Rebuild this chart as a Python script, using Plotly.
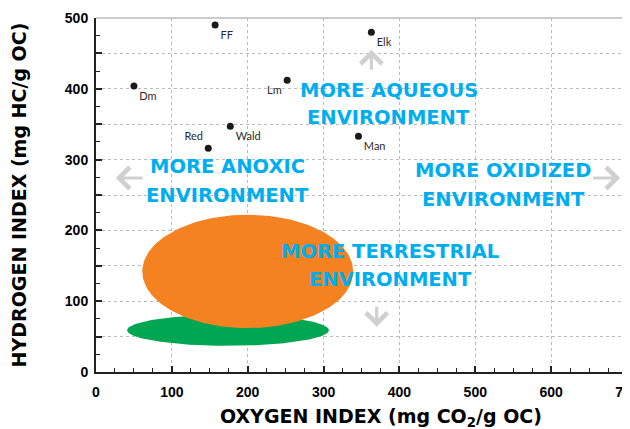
import plotly.graph_objects as go
import numpy as np

# Sample points (Oxygen index, Hydrogen index)
site_names = ["FF", "Elk", "Dm", "Lm", "Wald", "Red", "Man"]
oxygen_index = [157, 363, 50, 252, 177, 148, 346]
hydrogen_index = [490, 480, 404, 412, 347, 316, 333]
label_pos = ["bottom right", "bottom right", "bottom right", "bottom left",
             "bottom right", "top left", "bottom right"]

# Kerogen-type fields (ellipses): center x, center y, half-width, half-height
orange_field = dict(cx=200, cy=142, rx=139, ry=80)
green_field = dict(cx=174, cy=59, rx=133, ry=22)

x_ticks = [0, 100, 200, 300, 400, 500, 600, 700]
y_ticks = [0, 50, 100, 150, 200, 250, 300, 350, 400, 450, 500]
y_ticktext = ["0", "", "100", "", "200", "", "300", "", "400", "", "500"]

# Environment labels: (line text, x, y)
env_lines = [
    ("MORE AQUEOUS", 386, 398), ("ENVIRONMENT", 386, 359),
    ("MORE ANOXIC", 174, 290), ("ENVIRONMENT", 174, 250),
    ("MORE OXIDIZED", 537, 284), ("ENVIRONMENT", 537, 244),
    ("MORE TERRESTRIAL", 388, 170), ("ENVIRONMENT", 388, 131),
]

BLUE = "#00AEEF"
GREY = "#D0D0D0"
HEAVY = "DejaVu Sans, Liberation Sans, sans-serif"

fig = go.Figure()

def ellipse(f, color):
    t = np.linspace(0, 2 * np.pi, 200)
    return go.Scatter(x=f["cx"] + f["rx"] * np.cos(t), y=f["cy"] + f["ry"] * np.sin(t),
                      mode="lines", fill="toself", fillcolor=color,
                      line=dict(width=0, color=color), hoverinfo="skip", showlegend=False)

fig.add_trace(ellipse(green_field, "#00A651"))
fig.add_trace(ellipse(orange_field, "#F58220"))

fig.add_trace(go.Scatter(
    x=oxygen_index, y=hydrogen_index, mode="markers+text",
    text=site_names, textposition=label_pos,
    textfont=dict(family="Lato, DejaVu Sans, sans-serif", size=11, color="#2a2a2a"),
    marker=dict(size=7, color="#1a1a1a"), showlegend=False))

big = dict(family=HEAVY, size=19.5, color=BLUE, weight="bold")
for txt, x, y in env_lines:
    fig.add_annotation(x=x, y=y, text=txt, showarrow=False, font=big, align="center")

# direction arrows
arrows = [
    (363, 455, 0, 30),     # up
    (26, 274, 30, 0),      # left
    (691, 274, -30, 0),    # right
    (370, 64, 0, -30),     # down
]
for x, y, ax, ay in arrows:
    fig.add_annotation(x=x, y=y, ax=ax, ay=ay, showarrow=True, text=" ",
                       arrowhead=4, arrowsize=1.3, arrowwidth=3.2, arrowcolor=GREY)

axis_font = dict(family="Liberation Sans, Arial, sans-serif", size=14, color="black")
title_font = dict(family=HEAVY, size=19, color="black", weight="bold")
common = dict(
    tickfont=axis_font, showline=True, linecolor="#222222", linewidth=2,
    ticks="inside", ticklen=6, tickwidth=2, tickcolor="#222222",
    minor=dict(dtick=25, ticks="inside", ticklen=4, tickwidth=1, tickcolor="#222222", showgrid=False),
    showgrid=True, gridcolor="#BBBBBB", griddash="dot", gridwidth=1, zeroline=False,
    automargin=False, ticklabeloverflow="allow",
)
fig.update_xaxes(
    range=[0, 700], tickvals=x_ticks, ticktext=[f"<b>{v}</b>" for v in x_ticks],
    ticklabelstandoff=6,
    **common,
)
fig.update_yaxes(
    range=[0, 500], tickvals=y_ticks, ticktext=[f"<b>{v}</b>" if v else "" for v in y_ticktext],
    ticklabelstandoff=3,
    title=dict(text="HYDROGEN INDEX (mg HC/g OC)", font=title_font, standoff=36),
    **common,
)

# x-axis title (placed slightly right of centre, as in the original)
fig.add_annotation(xref="paper", yref="paper", x=0.5, y=0, xshift=19, yshift=-31,
                   yanchor="top", showarrow=False,
                   text="OXYGEN INDEX (mg CO<sub>2</sub>/g OC)", font=title_font)

# top / right border of plot area
fig.add_shape(type="line", xref="paper", yref="paper", x0=0, x1=1, y0=1, y1=1,
              line=dict(color="#BBBBBB", width=1.5))
fig.add_shape(type="line", xref="paper", yref="paper", x0=1, x1=1, y0=0, y1=1,
              line=dict(color="#BBBBBB", width=1.5))

# page has an 8px body margin, so the figure is 8px smaller than the window
fig.update_layout(
    width=622, height=421, margin=dict(l=88, r=3, t=10, b=57),
    plot_bgcolor="white", paper_bgcolor="white", showlegend=False,
)

fig.write_html("out.html")
